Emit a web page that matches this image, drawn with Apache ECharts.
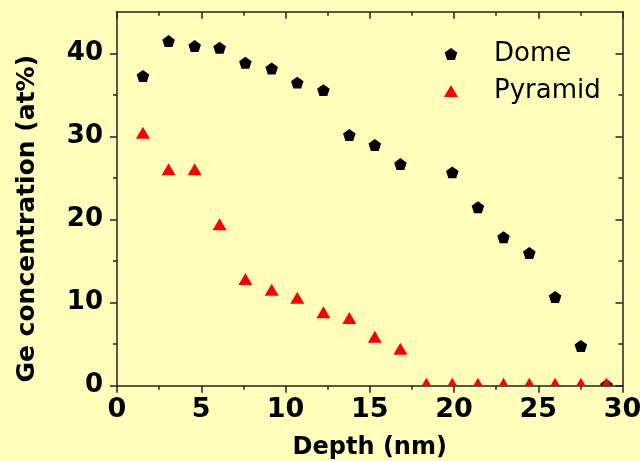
<!DOCTYPE html>
<html>
<head>
<meta charset="utf-8">
<script src="https://cdn.jsdelivr.net/npm/echarts@6/dist/echarts.min.js"></script>
<style>
html,body{margin:0;padding:0;background:#FEFEBA;}
#c{width:640px;height:461px;}
</style>
</head>
<body>
<div id="c"></div>
<script>
// Data
const depth = [1.54, 3.06, 4.61, 6.09, 7.62, 9.18, 10.7, 12.25, 13.79, 15.3, 16.82, 18.36, 19.9, 21.42, 22.94, 24.47, 26.0, 27.53, 29.05];
const dome = [37.2, 41.4, 40.8, 40.6, 38.8, 38.1, 36.4, 35.5, 30.1, 28.9, 26.6, null, 25.6, 21.4, 17.8, 15.9, 10.6, 4.7, 0];
const pyramid = [30.2, 25.8, 25.8, 19.2, 12.6, 11.3, 10.35, 8.6, 7.9, 5.65, 4.2, 0, 0, 0, 0, 0, 0, 0, 0];
const xTicks = [0, 5, 10, 15, 20, 25, 30];
const yMajor = [0, 10, 20, 30, 40];
const yMinor = [5, 15, 25, 35];

const axisColor = '#222';
const lineStyle = {color: axisColor, width: 1.5};
const font = 'DejaVu Sans';

function pairs(ys) {
  const out = [];
  depth.forEach((d, i) => { if (ys[i] !== null) out.push([d, ys[i]]); });
  return out;
}

function renderPentagon(params, api) {
  const p = api.coord([api.value(0), api.value(1)]);
  const r = 6.6;
  const pts = [];
  for (let k = 0; k < 5; k++) {
    const a = -Math.PI / 2 + k * 2 * Math.PI / 5;
    pts.push([p[0] + r * Math.cos(a), p[1] + r * Math.sin(a)]);
  }
  return {type: 'polygon', shape: {points: pts}, style: {fill: api.visual('color')}};
}
function renderTriangle(params, api) {
  const p = api.coord([api.value(0), api.value(1)]);
  const w = 14, h = 12;
  // centroid at the data point
  const pts = [[p[0], p[1] - h * 2 / 3], [p[0] + w / 2, p[1] + h / 3], [p[0] - w / 2, p[1] + h / 3]];
  return {type: 'polygon', shape: {points: pts}, style: {fill: api.visual('color')}};
}

function xAxisCfg(pos) {
  const bottom = pos === 'bottom';
  return {
    type: 'value', position: pos, min: 0, max: 30, interval: 5,
    axisLine: {show: true, onZero: false, lineStyle: lineStyle},
    axisTick: {show: true, inside: !bottom, length: 7, lineStyle: lineStyle},
    minorTick: {show: true, splitNumber: 2, length: 4, lineStyle: lineStyle},
    splitLine: {show: false},
    axisLabel: {show: bottom, margin: 11, color: '#000', fontFamily: font, fontWeight: 'bold', fontSize: 27},
    name: bottom ? 'Depth (nm)' : '',
    nameLocation: 'middle', nameGap: 50,
    nameTextStyle: {color: '#000', fontFamily: font, fontWeight: 'bold', fontSize: 24}
  };
}
function yAxisCfg(pos, major) {
  const left = pos === 'left';
  return {
    type: 'value', position: pos, min: 0, max: 45, interval: 5, offset: 0,
    axisLine: {show: major, onZero: false, lineStyle: lineStyle},
    axisTick: {show: true, inside: !left, length: major ? 7 : 4, customValues: major ? yMajor : yMinor, lineStyle: lineStyle},
    splitLine: {show: false},
    axisLabel: {show: left && major, customValues: yMajor, margin: 14, color: '#000', fontFamily: font, fontWeight: 'bold', fontSize: 26},
    name: (left && major) ? 'Ge concentration (at%)' : '',
    nameLocation: 'middle', nameGap: 77,
    nameTextStyle: {color: '#000', fontFamily: font, fontWeight: 'bold', fontSize: 25, padding: [0, 40, 0, 0]}
  };
}

const chart = echarts.init(document.getElementById('c'), null, {renderer: 'canvas'});
chart.setOption({
  backgroundColor: '#FEFEBA',
  animation: false,
  grid: {left: 117, right: 17.5, top: 11.8, bottom: 75.3, containLabel: false, outerBoundsMode: 'none'},
  legend: {
    orient: 'vertical', left: 444, top: 41, padding: 0, itemGap: 11,
    itemWidth: 14, itemHeight: 12,
    textStyle: {fontFamily: font, fontSize: 26, color: '#000', padding: [0, 0, 0, 31]},
    data: [
      {name: 'Dome', icon: 'path://M0,-1L0.951,-0.309L0.588,0.809L-0.588,0.809L-0.951,-0.309Z'},
      {name: 'Pyramid', icon: 'triangle'}
    ]
  },
  xAxis: [xAxisCfg('bottom'), xAxisCfg('top')],
  yAxis: [yAxisCfg('left', true), yAxisCfg('left', false), yAxisCfg('right', true), yAxisCfg('right', false)],
  series: [
    {name: 'Dome', type: 'custom', coordinateSystem: 'cartesian2d', xAxisIndex: 0, yAxisIndex: 0,
     clip: true, itemStyle: {color: '#000'}, renderItem: renderPentagon, data: pairs(dome), z: 3},
    {name: 'Pyramid', type: 'custom', coordinateSystem: 'cartesian2d', xAxisIndex: 0, yAxisIndex: 0,
     clip: true, itemStyle: {color: '#FF0000'}, renderItem: renderTriangle, data: pairs(pyramid), z: 3}
  ]
});
</script>
</body>
</html>
